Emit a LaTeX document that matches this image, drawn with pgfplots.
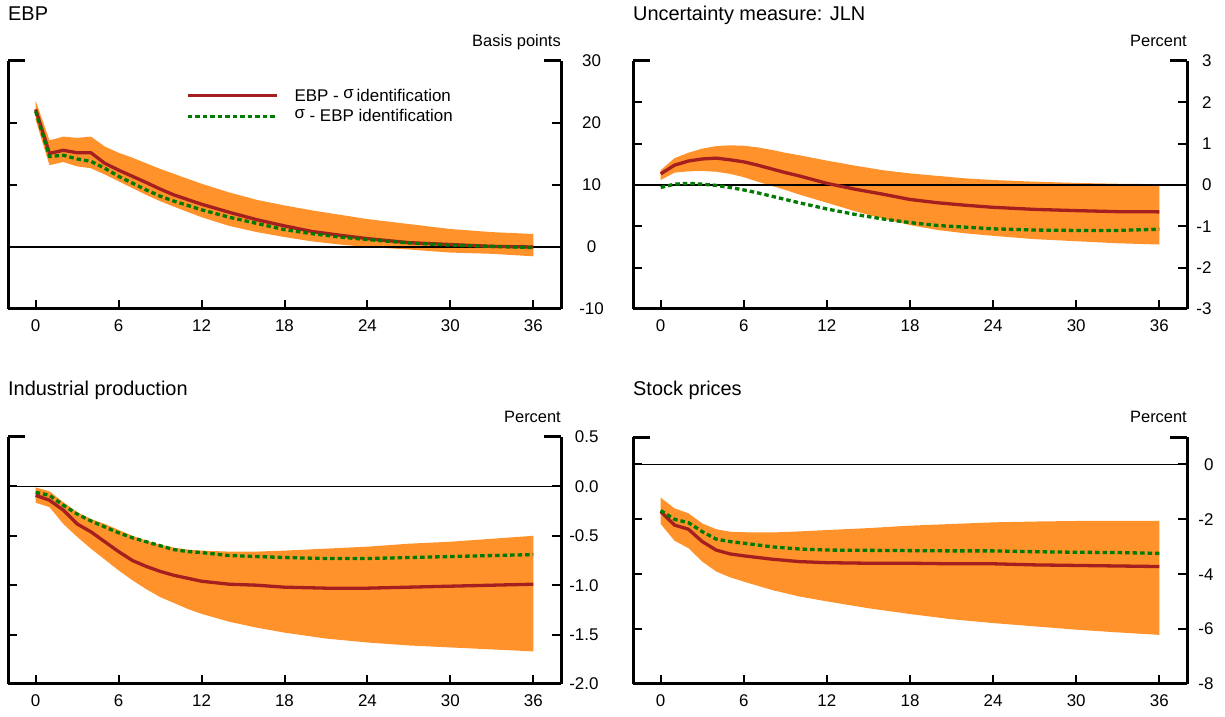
\documentclass[border=0pt]{standalone}
\usepackage{fontspec}
\setmainfont{Liberation Sans}
\usepackage{pgfplots}
\pgfplotsset{compat=1.18}
\usepackage{pgfplotstable}
\usepgfplotslibrary{fillbetween}
\definecolor{bandorange}{RGB}{255,146,43}
\definecolor{irfred}{RGB}{165,30,32}
\definecolor{irfgreen}{RGB}{0,122,0}

\pgfplotstableread{
t lo hi red green
0 20.5 23.6 22.2 21.9
1 13.2 17.2 15.1 14.6
2 13.7 17.8 15.6 14.8
3 13.0 17.6 15.2 14.2
4 12.7 17.8 15.2 13.8
5 11.7 16.2 13.5 12.7
6 10.6 15.2 12.4 11.4
7 9.5 14.4 11.4 10.3
8 8.4 13.5 10.4 9.2
9 7.4 12.6 9.35 8.2
10 6.5 11.8 8.4 7.4
12 4.8 10.2 6.9 6.0
14 3.4 8.8 5.6 4.8
16 2.4 7.6 4.4 3.8
18 1.6 6.7 3.4 2.8
20 0.9 5.9 2.5 2.15
22 0.4 5.2 1.9 1.6
24 0.0 4.5 1.35 1.2
27 -0.4 3.7 0.7 0.65
30 -0.9 2.9 0.4 0.3
33 -1.1 2.4 0.1 0.1
36 -1.5 2.1 0.0 -0.1
}\ebp

\pgfplotstableread{
t lo hi red green
0 0.12 0.36 0.27 -0.06
1 0.30 0.65 0.48 0.02
2 0.33 0.78 0.58 0.04
3 0.34 0.88 0.63 0.02
4 0.32 0.94 0.65 -0.01
5 0.27 0.96 0.61 -0.06
6 0.19 0.95 0.56 -0.12
7 0.08 0.91 0.48 -0.19
8 -0.02 0.85 0.39 -0.27
9 -0.12 0.78 0.30 -0.35
10 -0.23 0.72 0.22 -0.43
12 -0.43 0.59 0.04 -0.58
14 -0.63 0.47 -0.10 -0.71
16 -0.81 0.36 -0.22 -0.82
18 -0.97 0.28 -0.35 -0.91
20 -1.09 0.22 -0.43 -0.98
22 -1.17 0.16 -0.49 -1.02
24 -1.23 0.12 -0.54 -1.06
27 -1.31 0.08 -0.59 -1.09
30 -1.36 0.05 -0.62 -1.10
33 -1.41 0.03 -0.645 -1.10
36 -1.44 0.02 -0.65 -1.07
}\jln

\pgfplotstableread{
t lo hi red green
0 -0.165 -0.01 -0.09 -0.06
1 -0.21 -0.05 -0.14 -0.09
2 -0.38 -0.16 -0.24 -0.19
3 -0.51 -0.26 -0.38 -0.28
4 -0.63 -0.33 -0.46 -0.35
5 -0.74 -0.38 -0.56 -0.41
6 -0.85 -0.44 -0.66 -0.47
7 -0.95 -0.50 -0.75 -0.52
8 -1.04 -0.55 -0.81 -0.56
9 -1.12 -0.59 -0.86 -0.60
10 -1.18 -0.62 -0.90 -0.64
11 -1.24 -0.64 -0.93 -0.66
12 -1.29 -0.65 -0.96 -0.67
14 -1.37 -0.66 -0.99 -0.70
16 -1.43 -0.66 -1.00 -0.71
18 -1.48 -0.65 -1.02 -0.72
21 -1.54 -0.63 -1.03 -0.73
24 -1.58 -0.61 -1.03 -0.73
27 -1.61 -0.58 -1.02 -0.72
30 -1.63 -0.56 -1.01 -0.71
33 -1.65 -0.53 -1.00 -0.70
36 -1.67 -0.50 -0.99 -0.69
}\ip

\pgfplotstableread{
t lo hi red green
0 -2.17 -1.21 -1.72 -1.68
1 -2.78 -1.60 -2.21 -2.00
2 -3.05 -1.78 -2.36 -2.12
3 -3.54 -2.15 -2.81 -2.45
4 -3.90 -2.36 -3.12 -2.72
5 -4.11 -2.45 -3.26 -2.81
6 -4.27 -2.47 -3.33 -2.87
8 -4.57 -2.48 -3.45 -3.00
10 -4.81 -2.44 -3.54 -3.08
12 -4.99 -2.39 -3.58 -3.12
15 -5.24 -2.32 -3.60 -3.13
18 -5.45 -2.23 -3.60 -3.14
21 -5.64 -2.17 -3.62 -3.15
24 -5.78 -2.11 -3.62 -3.15
27 -5.90 -2.08 -3.66 -3.18
30 -6.02 -2.06 -3.68 -3.20
33 -6.12 -2.06 -3.70 -3.21
36 -6.21 -2.06 -3.72 -3.24
}\stock

\pgfplotsset{
  irf/.style={
    scale only axis,
    anchor=south west,
    xmin=-2, xmax=38,
    xtick={0,6,12,18,24,30,36},
    xticklabels={0,6,12,18,24,30,36},
    axis x line*=bottom,
    axis y line*=box,
    ytick pos=both,
    yticklabel pos=right,
    tick align=inside,
    axis line style={line width=3bp, black},
    major tick length=9bp,
    tick style={line width=2bp, black},
    ticklabel style={font=\fontsize{17}{20}\selectfont},
    xticklabel style={yshift=-7bp},
    extra y tick labels={},
    extra y tick style={major tick length=17bp, tick style={line width=3bp, black}},
    clip mode=individual,
  },
  band/.style={fill=bandorange, draw=none, forget plot},
  redline/.style={irfred, line width=3.3bp},
  greenline/.style={irfgreen, line width=3.3bp, dash pattern=on 4.5bp off 3bp},
  zeroline/.style={black, line width=1.1bp, forget plot},
}

\newcommand{\panel}[1]{%
  \addplot[name path=hi, draw=none, forget plot] table[x=t,y=hi]{#1};
  \addplot[name path=lo, draw=none, forget plot] table[x=t,y=lo]{#1};
  \addplot[band] fill between[of=hi and lo];
  \addplot[zeroline] coordinates {(-2,0) (38,0)};
  \addplot[redline] table[x=t,y=red]{#1};
  \addplot[greenline] table[x=t,y=green]{#1};
}

\begin{document}
\begin{tikzpicture}
\path (0,0) rectangle (1225bp,717bp);

% Top left: EBP
\begin{axis}[irf, at={(8bp,408bp)}, width=553bp, height=248bp,
  ymin=-10, ymax=30, ytick={-10,0,10,20,30},
  yticklabels={-10,0,10,20,30},
  yticklabel style={anchor=center, xshift=30.5bp},
  extra y ticks={30},
  legend style={at={(0.3165,0.905)}, anchor=north west, draw=none, fill=none,
    font=\fontsize{17}{20}\selectfont, row sep=3bp,
    /tikz/every odd column/.append style={column sep=14bp}},
  legend cell align=left,
  legend image code/.code={\draw[#1] (0bp,0bp) -- (89bp,0bp);},
]
\panel{\ebp}
\addlegendentry{EBP - \raisebox{3bp}{σ}\,identification}
\addlegendentry{\raisebox{3bp}{σ} - EBP identification}
\end{axis}

% Top right: JLN
\begin{axis}[irf, at={(633bp,408bp)}, width=554bp, height=248bp,
  ymin=-3, ymax=3, ytick={-3,-2,-1,0,1,2,3},
  yticklabels={-3,-2,-1,0,1,2,3},
  yticklabel style={anchor=east, xshift=28bp},
  extra y ticks={3},
]
\panel{\jln}
\end{axis}

% Bottom left: IP
\begin{axis}[irf, at={(8bp,33bp)}, width=553bp, height=247bp,
  ymin=-2, ymax=0.5, ytick={-2,-1.5,-1,-0.5,0,0.5},
  yticklabels={-2.0,-1.5,-1.0,-0.5,0.0,0.5},
  yticklabel style={anchor=east, xshift=41bp},
  extra y ticks={0.5},
]
\panel{\ip}
\end{axis}

% Bottom right: Stock prices
\begin{axis}[irf, at={(633bp,33bp)}, width=554bp, height=247bp,
  ymin=-8, ymax=1, ytick={-8,-6,-4,-2,0},
  yticklabels={-8,-6,-4,-2,0},
  yticklabel style={anchor=east, xshift=30bp},
  extra y ticks={1},
]
\panel{\stock}
\end{axis}

% Titles and units
\node[anchor=base west, inner sep=0pt] at (8bp,696bp) {\fontsize{20}{24}\selectfont EBP};
\node[anchor=base west, inner sep=0pt] at (633bp,696bp) {\fontsize{20}{24}\selectfont Uncertainty measure: JLN};
\node[anchor=base west, inner sep=0pt] at (8bp,321bp) {\fontsize{20}{24}\selectfont Industrial production};
\node[anchor=base west, inner sep=0pt] at (633bp,321bp) {\fontsize{20}{24}\selectfont Stock prices};
\node[anchor=base east, inner sep=0pt] at (561bp,670bp) {\fontsize{16.5}{20}\selectfont Basis points};
\node[anchor=base east, inner sep=0pt] at (1187bp,670bp) {\fontsize{16.5}{20}\selectfont Percent};
\node[anchor=base east, inner sep=0pt] at (561bp,294bp) {\fontsize{16.5}{20}\selectfont Percent};
\node[anchor=base east, inner sep=0pt] at (1187bp,294bp) {\fontsize{16.5}{20}\selectfont Percent};
\end{tikzpicture}
\end{document}
